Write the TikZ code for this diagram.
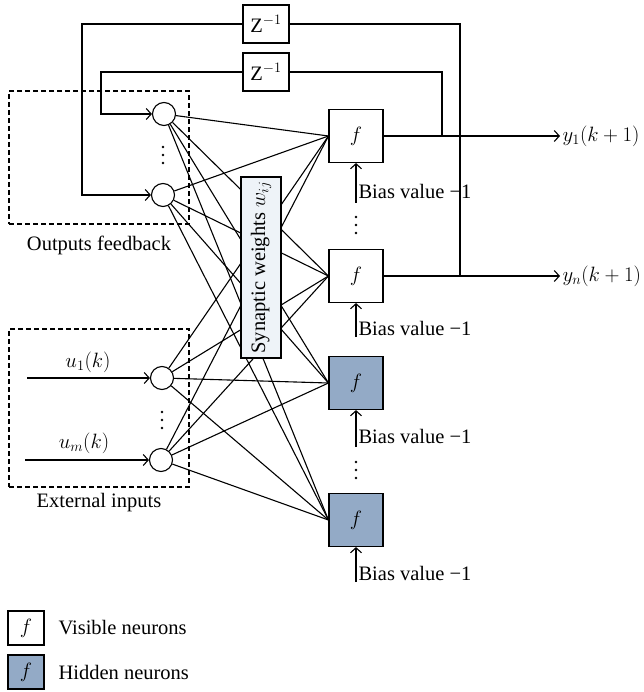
\documentclass[tikz,border=0pt]{standalone}
\usepackage{fontspec}
\setmainfont{Liberation Serif}
\usetikzlibrary{arrows.meta}
\definecolor{hidfill}{RGB}{147,170,198}
\definecolor{synfill}{RGB}{238,243,248}
\tikzset{
  base/.style={font=\fontsize{20.5}{24}\selectfont},
  neuron/.style={draw, minimum width=54, minimum height=53, inner sep=0, base},
  hidden/.style={neuron, fill=hidfill},
  innode/.style={draw, circle, minimum size=23, inner sep=0},
  delay/.style={draw, minimum width=46, minimum height=38, inner sep=0, base},
  arr/.style={-{Straight Barb[length=5pt,width=11pt]}},
  grp/.style={draw, dash pattern=on 5pt off 3pt, inner sep=0},
  lbl/.style={base, inner sep=0},
  vdot/.style={circle, fill=black, inner sep=0, minimum size=2.6},
}
\newcommand{\vdotsat}[3]{%
  \node[vdot] (#1a) at (#2,#3-8) {};
  \node[vdot] (#1b) at (#2,#3) {};
  \node[vdot] (#1c) at (#2,#3+8) {};}
\begin{document}
\begin{tikzpicture}[x=1pt,y=-1pt,line width=1.1pt]
\useasboundingbox (0,0) rectangle (643,692);
% delay boxes
\node[delay] (z1) at (266,24) {Z$^{-1}$};
\node[delay] (z2) at (266,72) {Z$^{-1}$};
% input circles
\node[innode] (c1) at (164,114) {};
\node[innode] (c2) at (163,195) {};
\node[innode] (c3) at (162,378) {};
\node[innode] (c4) at (161,460) {};
% neurons
\node[neuron] (n1) at (356,136) {$f$};
\node[neuron] (n2) at (356,276) {$f$};
\node[hidden] (n3) at (356,383) {$f$};
\node[hidden] (n4) at (356,520) {$f$};
% full connections
\foreach \i in {c1,c2,c3,c4}{
  \foreach \j in {n1,n2,n3,n4}{
    \draw (\i) -- (\j.west);
  }
}
% synaptic weights box
\node[draw, fill=synfill, rotate=90, minimum width=181, minimum height=40, inner sep=0, base] (syn) at (261,267.5) {Synaptic weights $w_{ij}$};
% group boxes
\node[grp, minimum width=180, minimum height=133] (fb) at (99,157.5) {};
\node[lbl] (fbl) at (99,245) {Outputs feedback};
\node[grp, minimum width=180, minimum height=158] (ext) at (99,408) {};
\node[lbl] (extl) at (99,503) {External inputs};
% external inputs
\coordinate (u1s) at (27,378);
\coordinate (u2s) at (25,460);
\draw[arr] (u1s) -- (c3);
\draw[arr] (u2s) -- (c4);
\node[lbl] (u1l) at (88,362) {$u_1(k)$};
\node[lbl] (u2l) at (84,443) {$u_m(k)$};
% dots
\vdotsat{da}{163}{155}
\vdotsat{db}{162}{420}
\vdotsat{dc}{356}{225}
\vdotsat{dd}{356}{470}
% outputs
\coordinate (o1) at (560,136);
\coordinate (o2) at (560,276);
\draw[arr] (n1.east) -- (o1);
\draw[arr] (n2.east) -- (o2);
\node[lbl, anchor=west] (y1l) at (562,136) {$y_1(k+1)$};
\node[lbl, anchor=west] (ynl) at (562,276) {$y_n(k+1)$};
% feedback
\coordinate (j1) at (442,136);
\coordinate (j2) at (460,276);
\coordinate (f1) at (82,195);
\coordinate (f2) at (101,114);
\draw (j2) |- (z1.east);
\draw (j1) |- (z2.east);
\draw[arr] (z1.west) -| (f1) -- (c2);
\draw[arr] (z2.west) -| (f2) -- (c1);
% biases
\coordinate (b1) at (356,203);
\coordinate (b2) at (356,337);
\coordinate (b3) at (356,447);
\coordinate (b4) at (356,582);
\draw[arr] (b1) -- (n1.south);
\draw[arr] (b2) -- (n2.south);
\draw[arr] (b3) -- (n3.south);
\draw[arr] (b4) -- (n4.south);
\node[lbl, anchor=west] (bl1) at (358,191) {Bias value −1};
\node[lbl, anchor=west] (bl2) at (358,328) {Bias value −1};
\node[lbl, anchor=west] (bl3) at (358,436) {Bias value −1};
\node[lbl, anchor=west] (bl4) at (358,573) {Bias value −1};
% legend
\node[neuron, minimum width=36, minimum height=34] (lv) at (26,628) {$f$};
\node[hidden, minimum width=36, minimum height=34] (lh) at (26,672) {$f$};
\node[lbl, anchor=west] (lvt) at (58,628) {Visible neurons};
\node[lbl, anchor=west] (lht) at (58,672) {Hidden neurons};
\end{tikzpicture}
\end{document}
